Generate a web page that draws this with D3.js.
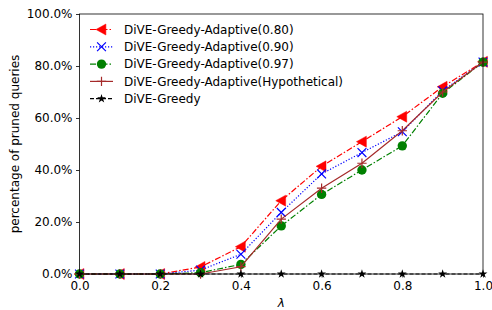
<!DOCTYPE html>
<html><head><meta charset="utf-8">
<script src="https://cdn.jsdelivr.net/npm/d3@7"></script>
<style>
body{margin:0;background:#fff;}
text{font-family:"DejaVu Sans",sans-serif;}
</style></head>
<body><svg id="c" width="492" height="310"></svg>
<script>
const lambdas = [0.0,0.1,0.2,0.3,0.4,0.5,0.6,0.7,0.8,0.9,1.0];
const adaptive080 = [0,0,0,2.7,10.5,28.2,41.4,50.9,60.5,72.0,81.6];
const adaptive090 = [0,0,0,1.5,7.6,23.7,38.5,46.7,54.7,70.5,81.5];
const adaptive097 = [0,0,0,0.5,3.7,18.5,30.6,40.0,49.3,69.5,81.5];
const adaptiveHyp = [0,0,0,0,2.8,21.1,33.0,42.6,55.1,70.0,81.5];
const greedy = [0,0,0,0,0,0,0,0,0,0,0];
const xTicks = [0.0,0.2,0.4,0.6,0.8,1.0];
const yTicks = [0,20,40,60,80,100];
const seriesNames = ["DiVE-Greedy-Adaptive(0.80)","DiVE-Greedy-Adaptive(0.90)","DiVE-Greedy-Adaptive(0.97)","DiVE-Greedy-Adaptive(Hypothetical)","DiVE-Greedy"];
const seriesValues = [adaptive080, adaptive090, adaptive097, adaptiveHyp, greedy];
const seriesColors = ["#ff0000","#0000ff","#008000","#a52a2a","#000000"];
const seriesDash = ["6,2,1.5,2","1.2,1.8","6,2,1.5,2",null,"4,2"];
const seriesMarker = ["tri","x","circle","plus","star"];

const svg = d3.select("#c");
const L=79.5, R=483, T=14, B=274;
const x = d3.scaleLinear().domain([0,1]).range([L,R]);
const y = d3.scaleLinear().domain([0,100]).range([B,T]);

// axes
const xa = svg.append("g").attr("transform",`translate(0,${B})`)
  .call(d3.axisBottom(x).tickValues(xTicks).tickFormat(d3.format(".1f")).tickSizeOuter(0).tickSize(3.5).tickPadding(3.5));
const ya = svg.append("g").attr("transform",`translate(${L},0)`)
  .call(d3.axisLeft(y).tickValues(yTicks).tickFormat(d=>d.toFixed(1)+"%").tickSizeOuter(0).tickSize(3.5).tickPadding(3.5));
[xa,ya].forEach(a=>{a.select(".domain").remove();a.selectAll("text").attr("font-size",12).attr("fill","#000").attr("font-family","DejaVu Sans");a.selectAll("line").attr("stroke","#000").attr("stroke-width",0.8);});

function marker(g, type, color, s){
  if(type==="tri"){
    const r=s;
    g.append("path").attr("d",`M${-r},0 L${r*0.8},${-r} L${r*0.8},${r} Z`).attr("fill",color).attr("stroke",color).attr("stroke-width",0.5);
  } else if(type==="x"){
    const r=s*0.8;
    g.append("path").attr("d",`M${-r},${-r}L${r},${r}M${-r},${r}L${r},${-r}`).attr("stroke",color).attr("stroke-width",1.2).attr("fill","none");
  } else if(type==="circle"){
    g.append("circle").attr("r",s*0.85).attr("fill",color);
  } else if(type==="plus"){
    const r=s*0.85;
    g.append("path").attr("d",`M${-r},0L${r},0M0,${-r}L0,${r}`).attr("stroke",color).attr("stroke-width",1.2).attr("fill","none");
  } else if(type==="star"){
    g.append("path").attr("d",d3.symbol(d3.symbolStar, s*s*0.8)()).attr("fill",color);
  }
}

const line = d3.line().x((d,i)=>x(lambdas[i])).y(d=>y(d));
const plot = svg.append("g");
seriesValues.forEach((vals,k)=>{
  plot.append("path").datum(vals).attr("d",line).attr("fill","none")
    .attr("stroke",seriesColors[k]).attr("stroke-width",1.2)
    .attr("stroke-dasharray",seriesDash[k]);
  vals.forEach((v,i)=>{
    const g = plot.append("g").attr("transform",`translate(${x(lambdas[i])},${y(v)})`);
    marker(g, seriesMarker[k], seriesColors[k], 5.5);
  });
});

// frame
svg.append("rect").attr("x",L).attr("y",T).attr("width",R-L).attr("height",B-T)
  .attr("fill","none").attr("stroke","#000").attr("stroke-width",0.8);

// legend
const lg = svg.append("g");
seriesNames.forEach((n,k)=>{
  const yy = 29.5 + k*17.3;
  lg.append("line").attr("x1",90).attr("x2",113).attr("y1",yy).attr("y2",yy)
    .attr("stroke",seriesColors[k]).attr("stroke-width",1.2).attr("stroke-dasharray",seriesDash[k]);
  const g = lg.append("g").attr("transform",`translate(101.5,${yy})`);
  marker(g, seriesMarker[k], seriesColors[k], 5.5);
  lg.append("text").attr("x",124).attr("y",yy).attr("dy","0.35em").attr("font-size",12).attr("fill","#000").text(n);
});

// axis labels
svg.append("text").attr("transform",`translate(19,${(T+B)/2}) rotate(-90)`).attr("text-anchor","middle")
  .attr("font-size",12).attr("fill","#000").text("percentage of pruned queries");
svg.append("text").attr("x",(L+R)/2).attr("y",307).attr("text-anchor","middle").attr("font-size",12)
  .attr("font-style","italic").attr("fill","#000").text("λ");
</script></body></html>
